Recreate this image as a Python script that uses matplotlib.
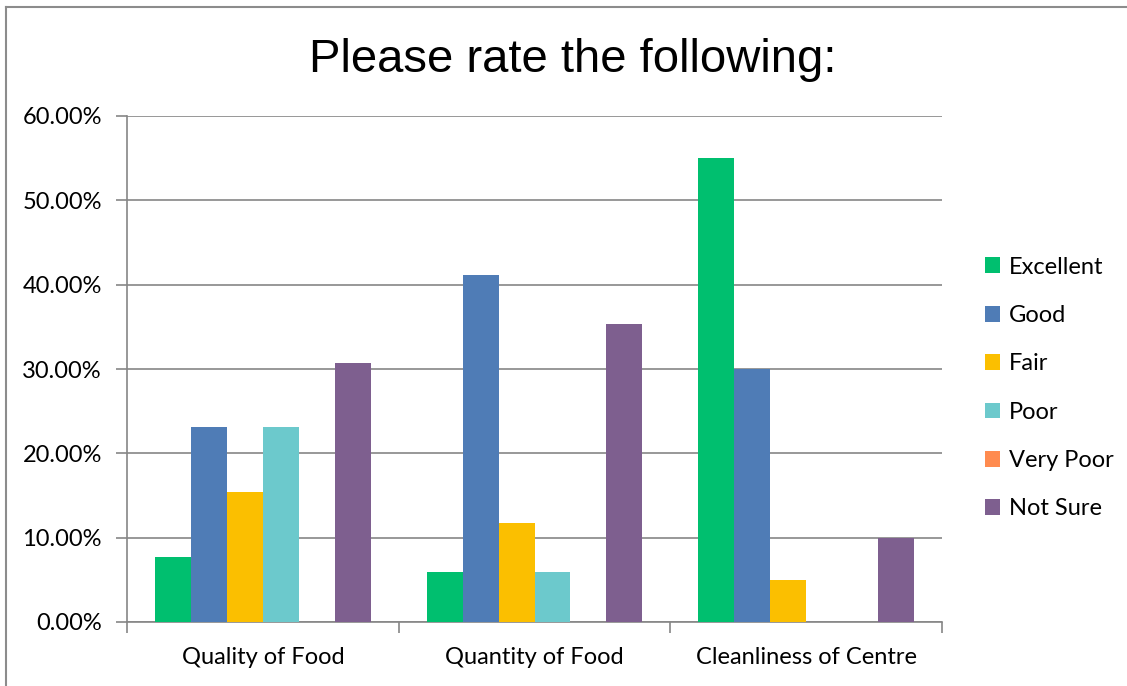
"""
Grouped bar chart: Please rate the following.
"""
import matplotlib
matplotlib.use("Agg")
import matplotlib.pyplot as plt
import matplotlib.ticker as mticker
import numpy as np

categories = ["Quality of Food", "Quantity of Food", "Cleanliness of Centre"]
series_names = ["Excellent", "Good", "Fair", "Poor", "Very Poor", "Not Sure"]
excellent = [7.69, 5.88, 55.0]
good = [23.08, 41.18, 30.0]
fair = [15.38, 11.76, 5.0]
poor = [23.08, 5.88, 0.0]
very_poor = [0.0, 0.0, 0.0]
not_sure = [30.77, 35.29, 10.0]
series_values = [excellent, good, fair, poor, very_poor, not_sure]
colors = ["#00BF6F", "#4F7CB6", "#FBBF00", "#6CC9CC", "#FF8B4F", "#7E5F8F"]

W, H = 1127, 686
fig = plt.figure(figsize=(W / 100, H / 100), dpi=100)
fig.patch.set_facecolor("white")

# chart frame (top and left edges visible)
fig.add_artist(plt.Line2D([6 / W, 1.0], [1 - 7 / H, 1 - 7 / H], transform=fig.transFigure,
                          color="#8c8c8c", lw=1.5))
fig.add_artist(plt.Line2D([6 / W, 6 / W], [0.0, 1 - 7 / H], transform=fig.transFigure,
                          color="#8c8c8c", lw=1.5))

ax = fig.add_axes([127 / W, (H - 622) / H, 815 / W, 506 / H])

x = np.arange(len(categories))
bw = 36 / 272
n = len(series_names)
for i, (name, vals, c) in enumerate(zip(series_names, series_values, colors)):
    offs = (i - (n - 1) / 2) * bw
    ax.bar(x + offs, vals, width=bw, color=c, label=name, zorder=3)

ax.set_xlim(-0.5, len(categories) - 0.5)
ax.set_ylim(0, 60)
ax.yaxis.set_major_locator(mticker.MultipleLocator(10))
ax.yaxis.set_major_formatter(mticker.FuncFormatter(lambda v, p: f"{v:.2f}%"))
ax.grid(axis="y", color="#868686", lw=1.2, zorder=0)

for s in ["top", "right"]:
    ax.spines[s].set_visible(False)
for s in ["left", "bottom"]:
    ax.spines[s].set_color("#868686")
    ax.spines[s].set_linewidth(1.2)

ax.set_xticks(x)
ax.set_xticklabels(categories)
ax.set_xticks(np.arange(len(categories) + 1) - 0.5, minor=True)
ax.tick_params(axis="x", which="major", length=0, pad=18)
ax.tick_params(axis="x", which="minor", length=8, color="#868686", width=1.2)
ax.tick_params(axis="y", length=8, color="#868686", width=1.2, pad=10)
for lab in ax.get_xticklabels() + ax.get_yticklabels():
    lab.set_fontfamily("Lato")
    lab.set_fontsize(17)
    lab.set_color("black")

fig.text(573 / W, 1 - 60 / H, "Please rate the following:", ha="center", va="center",
         fontsize=34, family="Liberation Sans")

leg = fig.legend(loc="center left", bbox_to_anchor=(985 / W, 1 - 388 / H), frameon=False,
                 prop={"family": "Lato", "size": 17}, handlelength=0.65, handleheight=0.65,
                 handletextpad=0.35, labelspacing=1.16, borderpad=0, borderaxespad=0)

fig.savefig("out.png", dpi=100)
